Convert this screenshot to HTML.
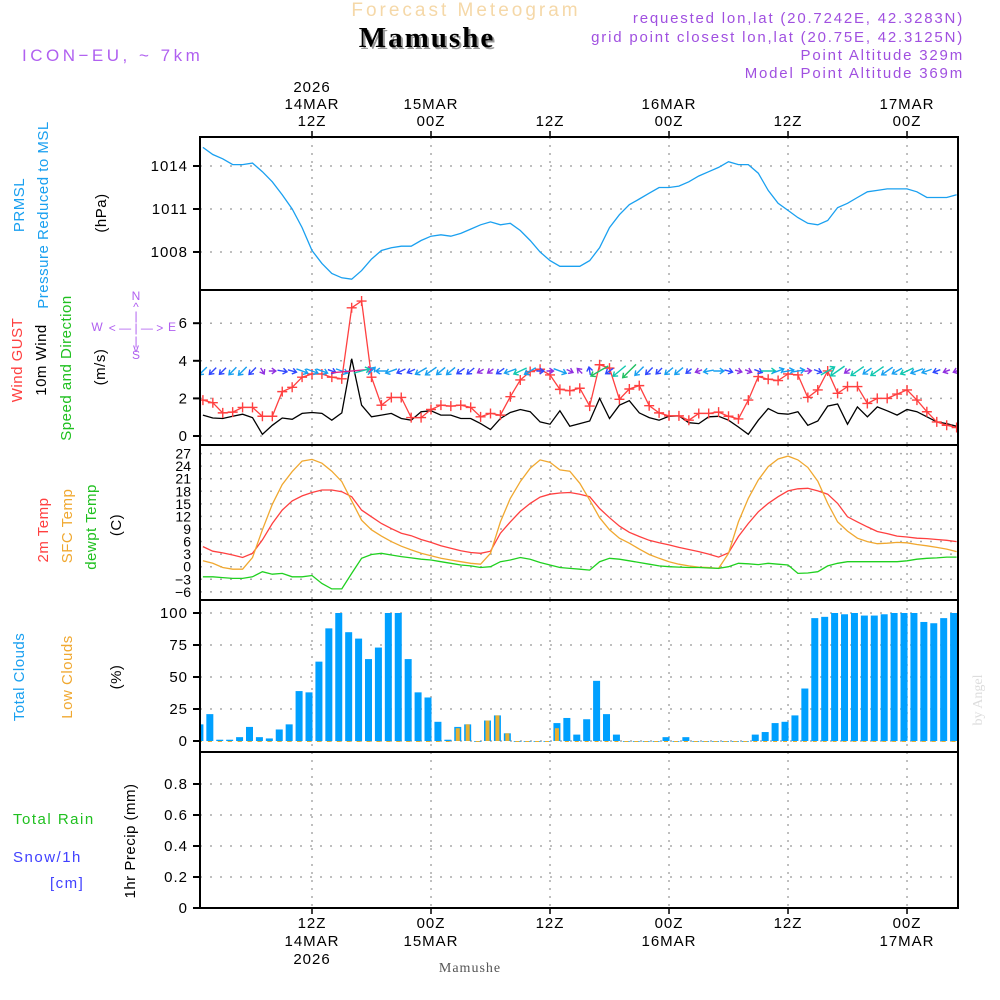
<!DOCTYPE html>
<html><head><meta charset="utf-8">
<style>
html,body{margin:0;padding:0;background:#fff;}
svg{display:block;font-family:"Liberation Sans",sans-serif;}
</style></head>
<body>
<svg id="chart" width="1000" height="1000" viewBox="0 0 1000 1000" xmlns="http://www.w3.org/2000/svg">
<rect width="1000" height="1000" fill="#fff"/>
<text x="466" y="16" text-anchor="middle" fill="#f5d8a8" font-size="19" letter-spacing="3">Forecast Meteogram</text>
<text x="429" y="49" text-anchor="middle" fill="#999" font-family="Liberation Serif,serif" font-weight="bold" font-size="29" letter-spacing="2">Mamushe</text>
<text x="427" y="47" text-anchor="middle" fill="#000" font-family="Liberation Serif,serif" font-weight="bold" font-size="29" letter-spacing="2">Mamushe</text>
<text x="22" y="61" fill="#b060f0" font-size="17" letter-spacing="3.5">ICON−EU, ~ 7km</text>
<g fill="#a050e0" font-size="15" letter-spacing="1.8" text-anchor="end">
<text x="964" y="23">requested lon,lat (20.7242E, 42.3283N)</text>
<text x="964" y="42">grid point closest lon,lat (20.75E, 42.3125N)</text>
<text x="964" y="60">Point Altitude 329m</text>
<text x="964" y="78">Model Point Altitude 369m</text>
</g>
<g id="grid"></g>
<g id="plots"></g>
<g id="frames" fill="none" stroke="#000" stroke-width="2">
<rect x="200" y="137" width="758" height="153"/>
<rect x="200" y="290" width="758" height="155"/>
<rect x="200" y="445" width="758" height="155"/>
<rect x="200" y="600" width="758" height="152"/>
<rect x="200" y="752" width="758" height="156"/>
</g>
<g id="ticks" font-size="15" letter-spacing="1"></g>
<g font-size="15" letter-spacing="0.5">
<text transform="translate(24,205) rotate(-90)" text-anchor="middle" fill="#1aa0f0">PRMSL</text>
<text transform="translate(48,215) rotate(-90)" text-anchor="middle" fill="#1aa0f0">Pressure Reduced to MSL</text>
<text transform="translate(106,213) rotate(-90)" text-anchor="middle" fill="#000">(hPa)</text>
<text transform="translate(22,360) rotate(-90)" text-anchor="middle" fill="#ff4040">Wind GUST</text>
<text transform="translate(46,360) rotate(-90)" text-anchor="middle" fill="#000">10m Wind</text>
<text transform="translate(71,368) rotate(-90)" text-anchor="middle" fill="#20c020">Speed and Direction</text>
<text transform="translate(105,367) rotate(-90)" text-anchor="middle" fill="#000">(m/s)</text>
<text transform="translate(48,530) rotate(-90)" text-anchor="middle" fill="#ff4040">2m Temp</text>
<text transform="translate(72,526) rotate(-90)" text-anchor="middle" fill="#f0a830">SFC Temp</text>
<text transform="translate(96,527) rotate(-90)" text-anchor="middle" fill="#20c020">dewpt Temp</text>
<text transform="translate(121,525) rotate(-90)" text-anchor="middle" fill="#000">(C)</text>
<text transform="translate(24,677) rotate(-90)" text-anchor="middle" fill="#1aa0f0">Total Clouds</text>
<text transform="translate(72,677) rotate(-90)" text-anchor="middle" fill="#f0a830">Low Clouds</text>
<text transform="translate(121,677) rotate(-90)" text-anchor="middle" fill="#000">(%)</text>
<text x="13" y="824" fill="#20c020" letter-spacing="1.5">Total  Rain</text>
<text x="13" y="862" fill="#4040ff" letter-spacing="1.5">Snow/1h</text>
<text x="50" y="888" fill="#4040ff" letter-spacing="1.5">[cm]</text>
<text transform="translate(135,841) rotate(-90)" text-anchor="middle" fill="#000">1hr Precip (mm)</text>
</g>
<g fill="#b060f0" font-size="12" text-anchor="middle">
<text x="136" y="300">N</text><text x="136" y="311">^</text><text x="136" y="320">|</text>
<text x="97" y="331">W</text><text x="136" y="332">&lt; — | — &gt;</text><text x="172" y="331">E</text>
<text x="136" y="345">|</text><text x="136" y="352">v</text><text x="136" y="359">S</text>
</g>
<text transform="translate(982,700) rotate(-90)" text-anchor="middle" fill="#ddd" font-family="Liberation Serif,serif" font-size="14">by Angel</text>
<text x="470" y="972" text-anchor="middle" fill="#555" font-family="Liberation Serif,serif" font-size="14" letter-spacing="1">Mamushe</text>
</svg>
<script>
const hours = [];for(let i=1;i<=77;i++)hours.push(i);
const pressure = [1015.3,1014.8,1014.5,1014.1,1014.1,1014.2,1013.6,1012.9,1012.0,1011.0,1009.7,1008.1,1007.2,1006.5,1006.2,1006.1,1006.7,1007.5,1008.1,1008.3,1008.4,1008.4,1008.8,1009.1,1009.2,1009.1,1009.3,1009.6,1009.9,1010.1,1009.9,1010.0,1009.5,1008.8,1008.0,1007.4,1007.0,1007.0,1007.0,1007.4,1008.3,1009.7,1010.6,1011.3,1011.7,1012.1,1012.5,1012.5,1012.6,1012.9,1013.3,1013.6,1013.9,1014.3,1014.1,1014.1,1013.5,1012.3,1011.4,1010.9,1010.4,1010.0,1009.9,1010.2,1011.1,1011.4,1011.8,1012.2,1012.3,1012.4,1012.4,1012.4,1012.2,1011.8,1011.8,1011.8,1012.0];
const gust = [1.91,1.77,1.23,1.27,1.52,1.52,1.05,1.05,2.36,2.59,3.13,3.30,3.30,3.13,3.04,6.82,7.18,3.13,1.64,2.05,2.05,0.98,0.98,1.41,1.64,1.59,1.64,1.52,1.02,1.20,1.11,2.09,2.98,3.43,3.55,3.25,2.48,2.41,2.54,1.59,3.79,3.61,1.95,2.5,2.68,1.61,1.23,1.07,1.07,0.84,1.2,1.2,1.27,1.05,0.91,1.91,3.16,3.02,2.95,3.3,3.25,2.05,2.45,3.46,2.27,2.63,2.63,1.73,2.0,2.0,2.23,2.45,1.91,1.29,0.75,0.57,0.45];
const windSpeed = [1.11,0.96,0.93,1.05,1.16,0.98,0.09,0.57,0.96,0.89,1.20,1.25,1.20,0.84,1.23,4.11,1.64,1.02,1.11,1.20,0.93,0.84,1.29,1.34,1.11,1.11,0.93,0.93,0.66,0.34,0.93,1.25,1.41,1.29,0.75,0.63,1.34,0.52,0.66,0.80,2.00,0.93,1.64,1.88,1.23,0.98,0.84,1.05,1.07,0.71,0.66,1.02,1.05,0.84,0.48,0.09,0.84,1.46,1.20,1.16,1.29,0.57,0.80,1.59,1.70,0.63,1.55,1.02,1.55,1.34,1.11,1.41,1.29,1.02,0.75,0.66,0.52];
const windDir = [225,225,225,225,225,225,300,0,350,345,340,340,340,340,340,5,15,45,180,200,205,205,210,215,220,220,215,220,210,215,215,200,205,210,0,0,340,335,135,100,210,215,220,225,225,225,225,220,220,220,200,190,0,345,345,340,340,0,20,10,10,5,340,30,215,215,215,215,215,215,210,205,200,200,200,200,200];
const temp2m = [4.8,3.7,3.3,2.8,2.2,3.2,6.4,10.3,13.5,15.7,16.9,17.7,18.3,18.3,17.9,16.7,13.5,11.9,10.3,9.1,8.0,7.4,6.5,5.8,5.0,4.4,3.8,3.4,3.2,3.7,8.0,10.7,13.2,15.1,16.6,17.3,17.6,17.7,17.3,16.7,13.9,11.7,9.7,8.2,7.2,6.3,5.7,5.2,4.6,4.1,3.6,3.0,2.3,3.3,7.2,10.3,13.1,15.1,16.7,18.1,18.6,18.7,18.1,17.3,15.1,11.9,10.7,9.5,8.4,7.9,7.3,7.1,6.8,6.7,6.5,6.3,6.0];
const tempSfc = [1.4,0.8,-0.2,-0.6,-0.6,2.2,8.8,14.9,19.6,22.7,25.2,25.6,24.7,22.8,20.3,15.7,11.1,8.8,7.3,6.0,4.9,4.0,3.2,2.6,2.0,1.6,1.2,0.8,0.6,3.2,10.7,16.3,20.3,23.5,25.5,24.9,23.1,22.8,19.9,15.9,11.7,8.8,6.8,5.6,4.2,2.9,2.0,1.2,0.6,0.2,-0.1,-0.2,-0.4,3.2,10.7,16.3,20.7,23.9,25.7,26.4,25.5,23.7,20.4,15.1,10.7,8.5,6.8,6.0,5.5,5.6,5.8,5.7,5.3,5.0,4.6,4.2,3.6];
const tempDew = [-2.4,-2.4,-2.6,-2.8,-2.8,-2.4,-1.2,-1.8,-1.6,-2.4,-2.4,-2.1,-4.0,-5.3,-5.3,-1.6,2.0,2.9,3.2,2.8,2.4,2.1,1.8,1.6,1.2,0.8,0.4,0.2,-0.2,0,1.2,1.6,2.2,1.8,1.0,0.4,-0.2,-0.4,-0.6,-0.8,1.2,2.0,1.8,1.4,1.0,0.6,0.2,0,-0.1,-0.2,-0.2,-0.3,-0.4,0,0.8,0.7,0.5,0.8,0.6,0.4,-1.6,-1.5,-1.2,0.2,0.8,1.2,1.2,1.2,1.2,1.2,1.2,1.4,1.8,2.0,2.1,2.3,2.3];
const totalClouds = [13,21,1,1,3,11,3,2,9,13,39,38,62,88,100,85,80,64,73,100,100,64,38,34,15,1,11,13,0,16,20,6,0,0,0,0,14,18,5,17,47,21,5,0,0,0,0,3,0,3,0,0,0,0,0,0,5,7,14,15,20,41,96,97,100,99,100,98,98,99,100,100,100,93,92,96,100];
const lowClouds = [0,0,0,0,0,0,0,0,0,0,0,0,0,0,0,0,0,0,0,0,0,0,0,0,0,0,10,13,0,16,20,6,0,0,0,0,10,0,0,0,0,0,0,0,0,0,0,0,0,0,0,0,0,0,0,0,0,0,0,0,0,0,0,0,0,0,0,0,0,0,0,0,0,0,0,0,0];
const precip = [0,0,0,0,0,0,0,0,0,0,0,0,0,0,0,0,0,0,0,0,0,0,0,0,0,0,0,0,0,0,0,0,0,0,0,0,0,0,0,0,0,0,0,0,0,0,0,0,0,0,0,0,0,0,0,0,0,0,0,0,0,0,0,0,0,0,0,0,0,0,0,0,0,0,0,0,0];
const pTicks=[1008,1011,1014], wTicks=[0,2,4,6], tTicks=[-6,-3,0,3,6,9,12,15,18,21,24,27], cTicks=[0,25,50,75,100], rTicks=[0,0.2,0.4,0.6,0.8];

const NS='http://www.w3.org/2000/svg';
const X=h=>312+(h-12)*9.917;
const yP=p=>166+(1014-p)*14.33;
const yW=v=>436-v*18.8;
const yT=t=>566.7-t*4.19;
const yC=c=>741-c*1.28;
const yR=r=>908-r*155;
function mk(tag,attrs,parent){const e=document.createElementNS(NS,tag);for(const k in attrs)e.setAttribute(k,attrs[k]);parent.appendChild(e);return e;}
const svg=document.getElementById('chart');
const grid=document.getElementById('grid'),plots=document.getElementById('plots'),ticks=document.getElementById('ticks');
const defs=mk('defs',{},svg);
[[137,153],[290,155],[445,155],[600,152],[752,156]].forEach((r,i)=>{const c=mk('clipPath',{id:'c'+i},defs);mk('rect',{x:200,y:r[0],width:758,height:r[1]},c);});
const panels=[[137,290],[290,445],[445,600],[600,752],[752,908]];
const vHours=[12,24,36,48,60,72];
vHours.forEach(h=>{panels.forEach(p=>{const l=mk('line',{x1:X(h),x2:X(h),y1:p[0],y2:p[1],stroke:'#aaa','stroke-width':1.5,'stroke-dasharray':'2,6'},grid);

});});
function hgrid(vals,f,lab){vals.forEach(v=>{const y=f(v);const l=mk('line',{x1:200,x2:958,y1:y,y2:y,stroke:'#aaa','stroke-width':1.5,'stroke-dasharray':'2,8'},grid);


mk('line',{x1:193,x2:200,y1:y,y2:y,stroke:'#000','stroke-width':2},ticks);
const t=mk('text',{x:188,y:y+5,'text-anchor':'end'},ticks);t.textContent=(lab?lab(v):v);

});}
hgrid(pTicks,yP);hgrid(wTicks,yW);hgrid(cTicks,yC);hgrid(rTicks,yR,v=>v===0?'0':v.toFixed(1));
tTicks.forEach(v=>{const y=yT(v);const l=mk('line',{x1:200,x2:958,y1:y,y2:y,stroke:'#aaa','stroke-width':1.5,'stroke-dasharray':'2,8'},grid);


const t=mk('text',{x:191,y:y+5,'text-anchor':'end','font-size':'14','letter-spacing':'0'},ticks);t.textContent=String(v).replace('-','−');

});
const topLab=[[12,['2026','14MAR','12Z']],[24,['15MAR','00Z']],[36,['12Z']],[48,['16MAR','00Z']],[60,['12Z']],[72,['17MAR','00Z']]];
topLab.forEach(([h,ls])=>{ls.forEach((s,i)=>{const t=mk('text',{x:X(h),y:126-(ls.length-1-i)*17,'text-anchor':'middle'},ticks);t.textContent=s;

});
mk('line',{x1:X(h),x2:X(h),y1:137,y2:131,stroke:'#000','stroke-width':1.5},ticks);
mk('line',{x1:X(h),x2:X(h),y1:908,y2:914,stroke:'#000','stroke-width':1.5},ticks);});
const botLab=[[12,['12Z','14MAR','2026']],[24,['00Z','15MAR']],[36,['12Z']],[48,['00Z','16MAR']],[60,['12Z']],[72,['00Z','17MAR']]];
botLab.forEach(([h,ls])=>{ls.forEach((s,i)=>{const t=mk('text',{x:X(h),y:928+i*18,'text-anchor':'middle'},ticks);t.textContent=s;

});});
function line(vals,f,color,name,clip){const d=vals.map((v,i)=>(i?'L':'M')+X(hours[i]).toFixed(1)+','+f(v).toFixed(1)).join('');
const p=mk('path',{d:d,fill:'none',stroke:color,'stroke-width':1.3,'clip-path':'url(#c'+clip+')'},plots);

return p;}
line(pressure,yP,'#1aa0f0','pressure-line',0);
line(windSpeed,yW,'#000','wind-speed-line',1);
line(gust,yW,'#ff4040','wind-gust-line',1);
gust.forEach((v,i)=>{const x=X(hours[i]),y=yW(v);const g=mk('path',{d:`M${x-5},${y}H${x+5}M${x},${y-5}V${y+5}`,stroke:'#ff4040','stroke-width':1.4,'clip-path':'url(#c1)'},plots);

});
function wcol(s){return s<0.7?'#9030e0':s<1.0?'#3048ff':s<1.4?'#18a0f0':s<1.8?'#10c8b0':s<2.5?'#20c060':'#e0208a';}
windDir.forEach((dg,i)=>{const s=windSpeed[i],L=Math.max(7,s*10),a=dg*Math.PI/180,cx=X(hours[i]),cy=371;
const x1=cx-Math.cos(a)*L/2,y1=cy+Math.sin(a)*L/2,x2=cx+Math.cos(a)*L/2,y2=cy-Math.sin(a)*L/2;
const b1=a+Math.PI*0.8,b2=a-Math.PI*0.8;
const d=`M${x1},${y1}L${x2},${y2}M${x2+Math.cos(b1)*5},${y2-Math.sin(b1)*5}L${x2},${y2}L${x2+Math.cos(b2)*5},${y2-Math.sin(b2)*5}`;
const p=mk('path',{d:d,fill:'none',stroke:wcol(s),'stroke-width':1.4,'clip-path':'url(#c1)'},plots);

});
line(temp2m,yT,'#ff4040','temp-2m-line',2);
line(tempSfc,yT,'#f0a830','temp-sfc-line',2);
line(tempDew,yT,'#20d020','dewpoint-line',2);
totalClouds.forEach((v,i)=>{const x=X(hours[i])-3;
const r=mk('rect',{x:x-3.5,y:yC(v),width:7,height:Math.max(0.8,741-yC(v)),fill:'#00a0ff','clip-path':'url(#c3)'},plots);


const lc=lowClouds[i];const r2=mk('rect',{x:x-2,y:yC(lc),width:4,height:Math.max(1,741-yC(lc)),fill:'#e8b030','clip-path':'url(#c3)'},plots);

});
const pl=line(precip,yR,'#000','precip-line',4);pl.setAttribute('stroke-dasharray','6,3');
</script>
</body></html>
